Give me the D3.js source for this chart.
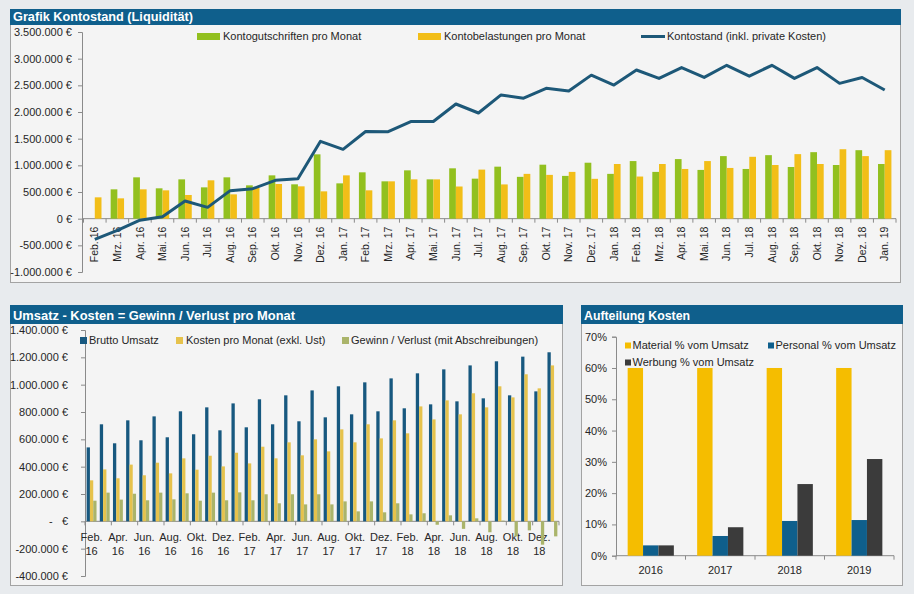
<!DOCTYPE html>
<html>
<head>
<meta charset="utf-8">
<script src="https://cdn.jsdelivr.net/npm/d3@7"></script>
<style>
  body { margin: 0; background: #e8ebee; }
  text { font-family: "Liberation Sans", Arial, sans-serif; fill: #262626; white-space: pre; }
</style>
</head>
<body>
<svg id="chart" width="914" height="594"></svg>
<script>
// ---- data (values in EUR) ----
const months = ["Feb. 16", "Mrz. 16", "Apr. 16", "Mai. 16", "Jun. 16", "Jul. 16", "Aug. 16", "Sep. 16",
  "Okt. 16", "Nov. 16", "Dez. 16", "Jan. 17", "Feb. 17", "Mrz. 17", "Apr. 17", "Mai. 17", "Jun. 17",
  "Jul. 17", "Aug. 17", "Sep. 17", "Okt. 17", "Nov. 17", "Dez. 17", "Jan. 18", "Feb. 18", "Mrz. 18",
  "Apr. 18", "Mai. 18", "Jun. 18", "Jul. 18", "Aug. 18", "Sep. 18", "Okt. 18", "Nov. 18", "Dez. 18", "Jan. 19"];

// top chart, thousands of EUR
const gutschriften = [0, 550, 775, 569, 737, 587, 775, 625, 812, 644, 1206, 662, 869, 700, 906, 737, 944, 750,
  975, 784, 1012, 802, 1049, 840, 1080, 877, 1117, 914, 1173, 932, 1191, 969, 1247, 1006, 1284, 1025];
const belastungen = [400, 381, 550, 531, 444, 719, 456, 575, 650, 606, 512, 812, 531, 700, 737, 737, 603, 920,
  642, 840, 821, 877, 747, 1025, 790, 1025, 932, 1080, 951, 1160, 1006, 1210, 1025, 1302, 1173, 1284];
const kontostand = [-390, -220, -28, 35, 331, 212, 525, 562, 719, 750, 1450, 1300, 1635, 1630, 1821, 1821, 2150, 1981,
  2320, 2259, 2444, 2394, 2691, 2506, 2787, 2630, 2833, 2648, 2876, 2672, 2876, 2630, 2833, 2537, 2648, 2413];
const topTicks = [-1000000, -500000, 0, 500000, 1000000, 1500000, 2000000, 2500000, 3000000, 3500000];

// bottom left chart, thousands of EUR
const umsatz = [541, 710, 571, 739, 593, 768, 615, 805, 637, 834, 666, 863, 688, 893, 710, 922, 732, 958,
  761, 988, 783, 1017, 805, 1046, 827, 1083, 856, 1112, 878, 1141, 900, 1171, 922, 1205, 951, 1237];
const kosten = [300, 380, 315, 415, 337, 429, 351, 461, 378, 480, 402, 502, 424, 546, 461, 578, 483, 600,
  512, 673, 578, 710, 607, 739, 644, 841, 746, 885, 783, 937, 834, 988, 907, 1076, 973, 1141];
const gewinn = [151, 210, 159, 202, 154, 210, 161, 205, 151, 210, 154, 212, 154, 198, 132, 198, 124, 198,
  124, 146, 73, 146, 66, 132, 51, 59, -25, 44, -55, 22, -80, 5, -110, -66, -171, -110];
const midTicks = [-400000, -200000, 0, 200000, 400000, 600000, 800000, 1000000, 1200000, 1400000];

// bottom right chart
const years = ["2016", "2017", "2018", "2019"];
const material = [0.60, 0.60, 0.60, 0.60];
const personal = [0.033, 0.063, 0.111, 0.114];
const werbung = [0.033, 0.091, 0.229, 0.309];
const pctTicks = [0, 0.1, 0.2, 0.3, 0.4, 0.5, 0.6, 0.7];

const BLUE = "#0f5f8c";
const AXIS = "#8a8a8a";

const de = d3.formatLocale({ decimal: ",", thousands: ".", grouping: [3], currency: ["", " €"], minus: "-" });
const fmtInt = de.format(",.0f");

const svg = d3.select("#chart");

function panel(x, y, w, h, titleH, title, titleW) {
  svg.append("rect").attr("x", x + 0.5).attr("y", y + 0.5).attr("width", w).attr("height", h)
    .attr("fill", "#f4f4f4").attr("stroke", "#a3a3a3");
  svg.append("rect").attr("x", x).attr("y", y).attr("width", w + 1).attr("height", titleH).attr("fill", BLUE);
  svg.append("text").attr("x", x + 3).attr("y", y + titleH - 4)
    .attr("font-size", "13.5px").attr("font-weight", "bold")
    .attr("textLength", titleW).attr("lengthAdjust", "spacingAndGlyphs")
    .style("fill", "#fff").text(title);
}

function styleAxis(g) {
  g.selectAll("path.domain").attr("stroke", AXIS);
  g.selectAll(".tick line").attr("stroke", AXIS);
  g.selectAll("text").attr("font-size", "11px").style("font-family", null).attr("fill", "#262626");
}

// ================= top: Kontostand =================
panel(10, 9, 890, 273, 16, "Grafik Kontostand (Liquidität)", 180);

const x1 = d3.scaleBand().domain(months).range([83.5, 896]);
const y1 = d3.scaleLinear().domain([-1000000, 3500000]).range([272, 32]);
const bw1 = 6.7;

svg.append("g").attr("transform", "translate(82,0)")
  .call(d3.axisLeft(y1).tickValues(topTicks).tickSize(4).tickPadding(6)
    .tickFormat(v => fmtInt(v) + " €"))
  .call(styleAxis);

// zero line with category ticks
const xAxis1 = svg.append("g").attr("transform", `translate(0,${y1(0)})`);
xAxis1.append("line").attr("x1", 82).attr("x2", x1.range()[1]).attr("stroke", AXIS);
xAxis1.selectAll("line.tk").data(months.concat(["end"])).join("line").attr("class", "tk")
  .attr("x1", (d, i) => x1.range()[0] + i * x1.step()).attr("x2", (d, i) => x1.range()[0] + i * x1.step())
  .attr("y1", 0).attr("y2", 4).attr("stroke", AXIS);
xAxis1.selectAll("text").data(months).join("text")
  .attr("transform", d => `translate(${x1(d) + x1.bandwidth() / 2},8) rotate(-90)`)
  .attr("dy", "0.35em").attr("text-anchor", "end").attr("font-size", "10.5px").text(d => d);

svg.append("g").selectAll("rect").data(gutschriften).join("rect")
  .attr("x", (d, i) => x1(months[i]) + x1.bandwidth() / 2 - bw1)
  .attr("y", d => y1(Math.max(0, d * 1000))).attr("width", bw1)
  .attr("height", d => Math.abs(y1(d * 1000) - y1(0))).attr("fill", "#92c01f");
svg.append("g").selectAll("rect").data(belastungen).join("rect")
  .attr("x", (d, i) => x1(months[i]) + x1.bandwidth() / 2)
  .attr("y", d => y1(Math.max(0, d * 1000))).attr("width", bw1)
  .attr("height", d => Math.abs(y1(d * 1000) - y1(0))).attr("fill", "#f2be18");

const line1 = d3.line().x((d, i) => x1(months[i]) + x1.bandwidth() / 2).y(d => y1(d * 1000));
svg.append("path").datum(kontostand).attr("d", line1).attr("fill", "none")
  .attr("stroke", "#1d5878").attr("stroke-width", 3).attr("stroke-linejoin", "round");

// legend
const lg1 = svg.append("g").attr("font-size", "11px");
lg1.append("rect").attr("x", 197).attr("y", 33).attr("width", 23).attr("height", 7).attr("fill", "#92c01f");
lg1.append("text").attr("x", 223).attr("y", 40).text("Kontogutschriften pro Monat");
lg1.append("rect").attr("x", 418).attr("y", 33).attr("width", 23).attr("height", 7).attr("fill", "#f2be18");
lg1.append("text").attr("x", 444).attr("y", 40).text("Kontobelastungen pro Monat");
lg1.append("line").attr("x1", 641).attr("x2", 665).attr("y1", 36.5).attr("y2", 36.5)
  .attr("stroke", "#1d5878").attr("stroke-width", 3);
lg1.append("text").attr("x", 667).attr("y", 40).text("Kontostand (inkl. private Kosten)");

// ================= bottom left: Umsatz - Kosten =================
panel(10, 305, 552, 280, 19, "Umsatz - Kosten = Gewinn / Verlust pro Monat", 282);

const x2 = d3.scaleBand().domain(months).range([85, 559]);
const y2 = d3.scaleLinear().domain([-400000, 1400000]).range([576, 330]);
const bw2 = 3.3;
const off2 = (x2.bandwidth() - 3 * bw2) / 2;

svg.append("g").attr("transform", "translate(85,0)")
  .call(d3.axisLeft(y2).tickValues(midTicks).tickSize(4).tickPadding(13)
    .tickFormat(v => v === 0 ? "-   €" : fmtInt(v) + " €"))
  .call(styleAxis);

const xAxis2 = svg.append("g").attr("transform", `translate(0,${y2(0)})`);
xAxis2.append("line").attr("x1", 85).attr("x2", 559).attr("stroke", AXIS);
const every2 = months.filter((d, i) => i % 2 === 0);
xAxis2.selectAll("line.tk").data(every2.concat(["end"])).join("line").attr("class", "tk")
  .attr("x1", (d, i) => 85 + i * 2 * x2.step()).attr("x2", (d, i) => 85 + i * 2 * x2.step())
  .attr("y1", 0).attr("y2", 4).attr("stroke", AXIS);
const lab2 = xAxis2.selectAll("text").data(every2).join("text")
  .attr("text-anchor", "middle").attr("font-size", "11px");
lab2.append("tspan").attr("x", d => x2(d) + x2.bandwidth() / 2).attr("y", 20).text(d => d.split(" ")[0]);
lab2.append("tspan").attr("x", d => x2(d) + x2.bandwidth() / 2).attr("y", 34).text(d => d.split(" ")[1]);

const series2 = [[umsatz, "#17587f"], [kosten, "#e6c24c"], [gewinn, "#aab46a"]];
series2.forEach(([vals, col], k) => {
  svg.append("g").selectAll("rect").data(vals).join("rect")
    .attr("x", (d, i) => x2(months[i]) + off2 + k * bw2)
    .attr("y", d => y2(Math.max(0, d * 1000))).attr("width", bw2)
    .attr("height", d => Math.abs(y2(d * 1000) - y2(0))).attr("fill", col);
});

const lg2 = svg.append("g").attr("font-size", "11px");
lg2.append("rect").attr("x", 80).attr("y", 337).attr("width", 7).attr("height", 7).attr("fill", "#17587f");
lg2.append("text").attr("x", 89).attr("y", 344).text("Brutto Umsatz");
lg2.append("rect").attr("x", 176).attr("y", 337).attr("width", 7).attr("height", 7).attr("fill", "#e6c24c");
lg2.append("text").attr("x", 186).attr("y", 344).text("Kosten pro Monat (exkl. Ust)");
lg2.append("rect").attr("x", 342).attr("y", 337).attr("width", 7).attr("height", 7).attr("fill", "#aab46a");
lg2.append("text").attr("x", 351).attr("y", 344).text("Gewinn / Verlust (mit Abschreibungen)");

// ================= bottom right: Aufteilung Kosten =================
panel(581, 305, 321, 280, 19, "Aufteilung Kosten", 106);

const x3 = d3.scaleBand().domain(years).range([616, 894]);
const y3 = d3.scaleLinear().domain([0, 0.7]).range([555.7, 336.7]);
const bw3 = 15.4;
const off3 = (x3.bandwidth() - 3 * bw3) / 2;

svg.append("g").attr("transform", "translate(616,0)")
  .call(d3.axisLeft(y3).tickValues(pctTicks).tickSize(4).tickPadding(5).tickFormat(d3.format(".0%")))
  .call(styleAxis);

const xAxis3 = svg.append("g").attr("transform", `translate(0,${y3(0)})`);
xAxis3.append("line").attr("x1", 616).attr("x2", 894).attr("stroke", AXIS);
xAxis3.selectAll("line.tk").data(years.concat(["end"])).join("line").attr("class", "tk")
  .attr("x1", (d, i) => 616 + i * x3.step()).attr("x2", (d, i) => 616 + i * x3.step())
  .attr("y1", 0).attr("y2", 4).attr("stroke", AXIS);
xAxis3.selectAll("text").data(years).join("text")
  .attr("x", d => x3(d) + x3.bandwidth() / 2).attr("y", 18)
  .attr("text-anchor", "middle").attr("font-size", "11px").text(d => d);

const series3 = [[material, "#f5bd00"], [personal, "#0f5f8c"], [werbung, "#3b3b3b"]];
series3.forEach(([vals, col], k) => {
  svg.append("g").selectAll("rect").data(vals).join("rect")
    .attr("x", (d, i) => x3(years[i]) + off3 + k * bw3)
    .attr("y", d => y3(d)).attr("width", bw3)
    .attr("height", d => y3(0) - y3(d)).attr("fill", col);
});

const lg3 = svg.append("g").attr("font-size", "11px");
lg3.append("rect").attr("x", 625).attr("y", 342.5).attr("width", 6).attr("height", 6).attr("fill", "#f5bd00");
lg3.append("text").attr("x", 632.5).attr("y", 349).text("Material % vom Umsatz");
lg3.append("rect").attr("x", 768).attr("y", 342.5).attr("width", 6).attr("height", 6).attr("fill", "#0f5f8c");
lg3.append("text").attr("x", 775.5).attr("y", 349).text("Personal % vom Umsatz");
lg3.append("rect").attr("x", 625).attr("y", 359.5).attr("width", 6).attr("height", 6).attr("fill", "#3b3b3b");
lg3.append("text").attr("x", 632.5).attr("y", 366).text("Werbung % vom Umsatz");
</script>
</body>
</html>
